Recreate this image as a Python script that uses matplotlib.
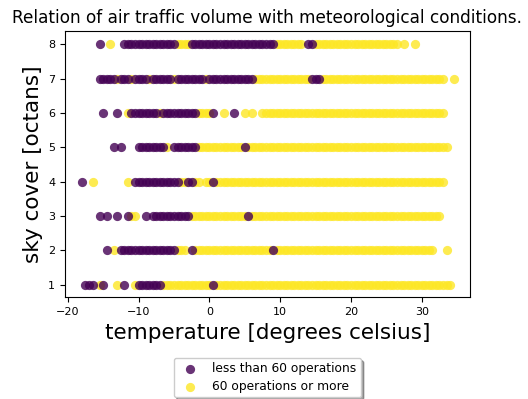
import matplotlib
matplotlib.use("Agg")
import matplotlib.pyplot as plt

# Temperatur-Werte pro Bewoelkungsstufe (Oktas)
# "low" = weniger als 60 Operationen, "high" = 60 oder mehr

low_8 = [-15.5, -12.0, -11.5, -11.0, -10.5, -10.0, -9.5, -9.0, -8.5, -8.0, -7.5,
         -7.0, -6.5, -6.0, -5.5, -5.0, -2.5, -2.0, -1.5, -1.0, -0.5, 0.0, 0.5,
         1.0, 1.5, 2.0, 2.5, 3.0, 3.5, 4.0, 4.5, 5.0, 5.5, 6.0, 6.5, 7.0, 7.5,
         8.0, 8.5, 9.0, 14.0, 14.5]
high_8 = [-14.0, -4.5, -4.0, -3.5, -3.0, 9.5, 10.0, 10.5, 11.0, 11.5, 12.0, 12.5,
          13.0, 15.0, 15.5, 16.0, 16.5, 17.0, 17.5, 18.0, 18.5, 19.0, 19.5,
          20.0, 20.5, 21.0, 21.5, 22.0, 22.5, 23.0, 23.5, 24.0, 24.5, 25.0,
          25.5, 26.0, 26.5, 27.5, 29.0]

low_7 = [-15.5, -15.0, -14.5, -14.0, -13.5, -12.5, -12.0, -11.5, -10.5, -10.0,
         -9.5, -9.0, -8.0, -7.5, -7.0, -6.5, -6.0, -5.5, -4.5, -4.0, -3.5, -3.0,
         -2.5, -2.0, -1.5, -1.0, 0.0, 0.5, 1.0, 1.5, 2.0, 2.5, 3.0, 3.5, 4.0,
         4.5, 5.0, 5.5, 6.0, 14.5, 15.0, 15.5]
high_7 = [-13.0, -11.0, -8.5, -5.0, -0.5, 6.5, 7.0, 7.5, 8.0, 8.5, 9.0, 9.5,
          10.0, 10.5, 11.0, 11.5, 12.0, 12.5, 13.0, 13.5, 14.0, 16.0, 16.5,
          17.0, 17.5, 18.0, 18.5, 19.0, 19.5, 20.0, 20.5, 21.0, 21.5, 22.0,
          22.5, 23.0, 23.5, 24.0, 24.5, 25.0, 25.5, 26.0, 26.5, 27.0, 27.5,
          28.0, 28.5, 29.0, 29.5, 30.0, 30.5, 31.0, 31.5, 32.0, 32.5, 33.0, 34.5]

low_6 = [-15.0, -13.0, -11.0, -10.5, -10.0, -9.5, -9.0, -8.5, -8.0, -7.5, -6.5,
         -6.0, -5.5, -5.0, -4.5, -4.0, -3.5, -3.0, -2.5, -2.0, 0.5, 3.5]
high_6 = [-11.5, -7.0, -1.5, -1.0, -0.5, 0.0, 2.0, 5.0, 6.0, 7.5, 8.0, 8.5, 9.0,
          9.5, 10.0, 10.5, 11.0, 11.5, 12.0, 12.5, 13.0, 13.5, 14.0, 14.5,
          15.0, 15.5, 16.0, 16.5, 17.0, 17.5, 18.0, 18.5, 19.0, 19.5, 20.0,
          20.5, 21.0, 21.5, 22.0, 22.5, 23.0, 23.5, 24.0, 24.5, 25.0, 25.5,
          26.0, 26.5, 27.0, 27.5, 28.0, 28.5, 29.0, 29.5, 30.0, 30.5, 31.0,
          31.5, 32.0, 32.5, 33.0]

low_5 = [-13.5, -12.5, -10.0, -9.5, -9.0, -8.5, -8.0, -7.5, -7.0, -6.5, -5.0,
         -4.5, -4.0, -3.5, -3.0, -2.5, -2.0, 5.0]
high_5 = [-6.0, -1.5, -1.0, -0.5, 0.0, 0.5, 1.0, 1.5, 2.0, 2.5, 3.0, 3.5, 4.0,
          4.5, 5.5, 6.0, 6.5, 7.0, 7.5, 8.0, 8.5, 9.0, 9.5, 10.0, 10.5, 11.0,
          11.5, 12.0, 12.5, 13.0, 13.5, 14.0, 14.5, 15.0, 15.5, 16.0, 16.5,
          17.0, 17.5, 18.0, 18.5, 19.0, 19.5, 20.0, 20.5, 21.0, 21.5, 22.0,
          22.5, 23.0, 23.5, 24.0, 24.5, 25.0, 25.5, 26.0, 26.5, 27.0, 27.5,
          28.0, 28.5, 29.0, 29.5, 30.0, 30.5, 31.0, 31.5, 32.0, 32.5, 33.0, 33.5]

low_4 = [-18.0, -10.5, -10.0, -9.5, -9.0, -8.5, -8.0, -7.5, -7.0, -6.5, -6.0,
         -5.5, -5.0, -4.5, -3.0, -2.5, 0.5]
high_4 = [-16.5, -11.5, -4.0, -3.5, -2.0, -1.5, -0.5, 0.0, 1.0, 1.5, 2.0, 2.5,
          3.0, 3.5, 4.0, 4.5, 5.0, 5.5, 6.0, 6.5, 7.0, 7.5, 8.0, 8.5, 9.0,
          9.5, 10.0, 10.5, 11.0, 11.5, 12.0, 12.5, 13.0, 13.5, 14.0, 14.5,
          15.0, 15.5, 16.0, 16.5, 17.0, 17.5, 18.0, 18.5, 19.0, 19.5, 20.0,
          20.5, 21.0, 21.5, 22.0, 22.5, 23.0, 23.5, 24.0, 24.5, 25.0, 25.5,
          26.0, 26.5, 27.0, 27.5, 28.0, 28.5, 29.0, 29.5, 30.0, 30.5, 31.0,
          31.5, 32.0, 32.5, 33.0]

low_3 = [-15.5, -14.5, -13.0, -11.5, -9.0, -8.0, -7.5, -7.0, -6.5, -6.0, -5.5,
         -5.0, -4.5, -4.0, -3.5, -3.0, 5.5]
high_3 = [-11.0, -10.5, -2.5, -2.0, -1.5, -1.0, -0.5, 0.0, 0.5, 1.0, 1.5, 2.0,
          2.5, 3.0, 3.5, 4.0, 4.5, 5.0, 6.0, 6.5, 7.0, 7.5, 8.0, 8.5, 9.0,
          9.5, 10.0, 10.5, 11.0, 11.5, 12.0, 12.5, 13.0, 13.5, 14.0, 14.5,
          15.0, 15.5, 16.0, 16.5, 17.0, 17.5, 18.0, 18.5, 19.0, 19.5, 20.0,
          20.5, 21.0, 21.5, 22.0, 22.5, 23.0, 23.5, 24.0, 24.5, 25.0, 25.5,
          26.0, 26.5, 27.0, 27.5, 28.0, 28.5, 29.0, 29.5, 30.0, 30.5, 31.0,
          31.5, 32.0, 32.5]

low_2 = [-14.5, -12.5, -12.0, -11.5, -11.0, -10.5, -10.0, -9.5, -9.0, -8.5,
         -8.0, -7.5, -7.0, -6.5, -6.0, -5.5, -5.0, -2.5, 9.0]
high_2 = [-13.5, -4.5, -4.0, -3.5, -2.0, -1.5, -1.0, -0.5, 0.0, 0.5, 1.0, 1.5,
          2.0, 2.5, 3.0, 3.5, 4.0, 4.5, 5.0, 5.5, 6.0, 6.5, 7.0, 7.5, 8.0,
          8.5, 9.5, 10.0, 10.5, 11.0, 11.5, 12.0, 12.5, 13.0, 13.5, 14.0,
          14.5, 15.0, 15.5, 16.0, 16.5, 17.0, 17.5, 18.0, 18.5, 19.0, 19.5,
          20.0, 20.5, 21.0, 21.5, 22.0, 22.5, 23.0, 23.5, 24.0, 24.5, 25.0,
          25.5, 26.0, 26.5, 27.0, 27.5, 28.0, 28.5, 29.0, 29.5, 30.0, 30.5,
          31.0, 31.5, 33.5]

low_1 = [-17.5, -17.0, -16.5, -15.0, -12.0, -10.0, -9.5, -9.0, -8.5, -8.0,
         -7.5, -7.0, 0.5]
high_1 = [-15.5, -13.0, -10.5, -6.5, -6.0, -5.5, -5.0, -4.5, -4.0, -3.5, -3.0,
          -2.5, -2.0, -1.5, -1.0, -0.5, 0.0, 1.0, 1.5, 2.0, 2.5, 3.0, 3.5,
          4.0, 4.5, 5.0, 5.5, 6.0, 6.5, 7.0, 7.5, 8.0, 8.5, 9.0, 9.5, 10.0,
          10.5, 11.0, 11.5, 12.0, 12.5, 13.0, 13.5, 14.0, 14.5, 15.0, 15.5,
          16.0, 16.5, 17.0, 17.5, 18.0, 18.5, 19.0, 19.5, 20.0, 20.5, 21.0,
          21.5, 22.0, 22.5, 23.0, 23.5, 24.0, 24.5, 25.0, 25.5, 26.0, 26.5,
          27.0, 27.5, 28.0, 28.5, 29.0, 29.5, 30.0, 30.5, 31.0, 31.5, 32.0,
          32.5, 33.0, 33.5, 34.0]

octas = [1, 2, 3, 4, 5, 6, 7, 8]
low_by_octa = [low_1, low_2, low_3, low_4, low_5, low_6, low_7, low_8]
high_by_octa = [high_1, high_2, high_3, high_4, high_5, high_6, high_7, high_8]

LOW_COLOR = "#440154"
HIGH_COLOR = "#fde725"


def flatten(rows):
    xs, ys = [], []
    for octa, temps in zip(octas, rows):
        xs += temps
        ys += [octa] * len(temps)
    return xs, ys


fig = plt.figure(figsize=(5.28, 3.99), dpi=100)
ax = fig.add_axes([0.123, 0.255, 0.767, 0.667])

hx, hy = flatten(high_by_octa)
lx, ly = flatten(low_by_octa)
sc_high = ax.scatter(hx, hy, s=44, color=HIGH_COLOR, alpha=0.8, linewidths=0,
                     label="60 operations or more")
sc_low = ax.scatter(lx, ly, s=44, color=LOW_COLOR, alpha=0.8, linewidths=0,
                    label="less than 60 operations")

ax.set_xlim(-20.4, 36.8)
ax.set_ylim(0.64, 8.38)
ax.set_yticks(octas)
ax.set_xticks([-20, -10, 0, 10, 20, 30])
ax.tick_params(labelsize=8)
ax.set_title("Relation of air traffic volume with meteorological conditions.",
             fontsize=12.2)
ax.set_xlabel("temperature [degrees celsius]", fontsize=15.5)
ax.set_ylabel("sky cover [octans]", fontsize=15.5)
ax.legend(handles=[sc_low, sc_high], loc="upper center",
          bbox_to_anchor=(0.5, -0.205), shadow=True, fontsize=8.8,
          labelspacing=0.4, borderpad=0.35)

fig.savefig("out.png", dpi=100)
